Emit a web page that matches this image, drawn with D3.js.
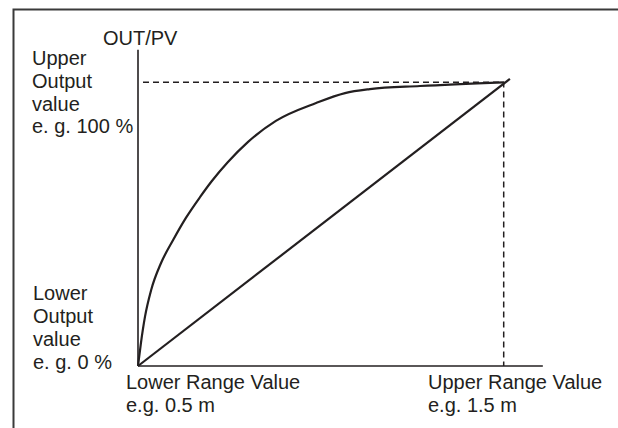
<!DOCTYPE html>
<html>
<head>
<meta charset="utf-8">
<script src="https://cdn.jsdelivr.net/npm/d3@7"></script>
<style>
  body { margin: 0; background: #fff; }
  text { font-family: "Liberation Sans", Arial, Helvetica, sans-serif; fill: #231f20; }
</style>
</head>
<body>
<div id="myChart"></div>
<script>
// Range in metres, output in percent
let rangeDomain = [0.5, 1.5];
let outputDomain = [0, 100];

// How far the drawn axes run past the range
let xAxisEnd = 1.607;
let yAxisTop = 111.5;

// Characteristic curve (range m, output %)
let curveRange = [0.5, 0.508, 0.519, 0.536, 0.563, 0.596, 0.631, 0.67, 0.702, 0.746, 0.801, 0.877, 0.987, 1.066, 1.134, 1.271, 1.5];
let curveOutput = [0, 8.1, 17.3, 26.8, 36.3, 44.4, 52.2, 59.6, 65.2, 71.9, 79.0, 86.4, 92.7, 96.2, 97.6, 98.7, 100];

// Linear characteristic, slightly overshooting the corner
let linearRange = [0.5, 1.517];
let linearOutput = [0, 101.2];

let leftUpperLabel = ["Upper", "Output", "value", "e. g. 100 %"];
let leftLowerLabel = ["Lower", "Output", "value", "e. g. 0 %"];
let lowerRangeLabel = ["Lower Range Value", "e.g. 0.5 m"];
let upperRangeLabel = ["Upper Range Value", "e.g. 1.5 m"];

let W = 618, H = 428;

let svg = d3
  .select("#myChart")
  .append("svg")
  .attr("width", W)
  .attr("height", H);

let x = d3.scaleLinear().domain(rangeDomain).range([138, 503.7]);
let y = d3.scaleLinear().domain(outputDomain).range([366, 82.3]);

// Outer frame: left and top edges only
svg.append("path")
  .attr("d", `M13.5,${H} L13.5,9.5 L${W},9.5`)
  .attr("fill", "none")
  .attr("stroke", "#3a3a3a")
  .attr("stroke-width", 2);

// Dashed guides to the upper corner
svg.append("path")
  .attr("d", `M${x(rangeDomain[0]) + 5},${y(100)} L${x(1.5)},${y(100)} L${x(1.5)},${y(0)}`)
  .attr("fill", "none")
  .attr("stroke", "#231f20")
  .attr("stroke-width", 1.5)
  .attr("stroke-dasharray", "6,4");

// Axes
svg.append("line")
  .attr("x1", x(rangeDomain[0])).attr("y1", y(yAxisTop))
  .attr("x2", x(rangeDomain[0])).attr("y2", y(0))
  .attr("stroke", "#231f20").attr("stroke-width", 1.6);

svg.append("line")
  .attr("x1", x(rangeDomain[0])).attr("y1", y(0))
  .attr("x2", x(xAxisEnd)).attr("y2", y(0))
  .attr("stroke", "#231f20").attr("stroke-width", 1.6);

// Lines
let line = d3.line()
  .x((d) => x(d[0]))
  .y((d) => y(d[1]));

svg.append("path")
  .datum(linearRange.map((r, i) => [r, linearOutput[i]]))
  .attr("d", line)
  .attr("fill", "none")
  .attr("stroke", "#231f20")
  .attr("stroke-width", 2.2);

svg.append("path")
  .datum(curveRange.map((r, i) => [r, curveOutput[i]]))
  .attr("d", line.curve(d3.curveMonotoneX))
  .attr("fill", "none")
  .attr("stroke", "#231f20")
  .attr("stroke-width", 2.2);

// Labels
function multiline(lines, x0, y0, lh) {
  let t = svg.append("text")
    .attr("x", x0)
    .attr("y", y0)
    .style("font-size", "20px");
  lines.forEach((s, i) => {
    t.append("tspan").attr("x", x0).attr("y", y0 + i * lh).text(s);
  });
}

svg.append("text")
  .attr("x", 103)
  .attr("y", 45)
  .style("font-size", "20px")
  .text("OUT/PV");

multiline(leftUpperLabel, 32, 65, 22.8);
multiline(leftLowerLabel, 33, 300, 23);
multiline(lowerRangeLabel, 126, 389, 23);
multiline(upperRangeLabel, 428, 389, 23);
</script>
</body>
</html>
